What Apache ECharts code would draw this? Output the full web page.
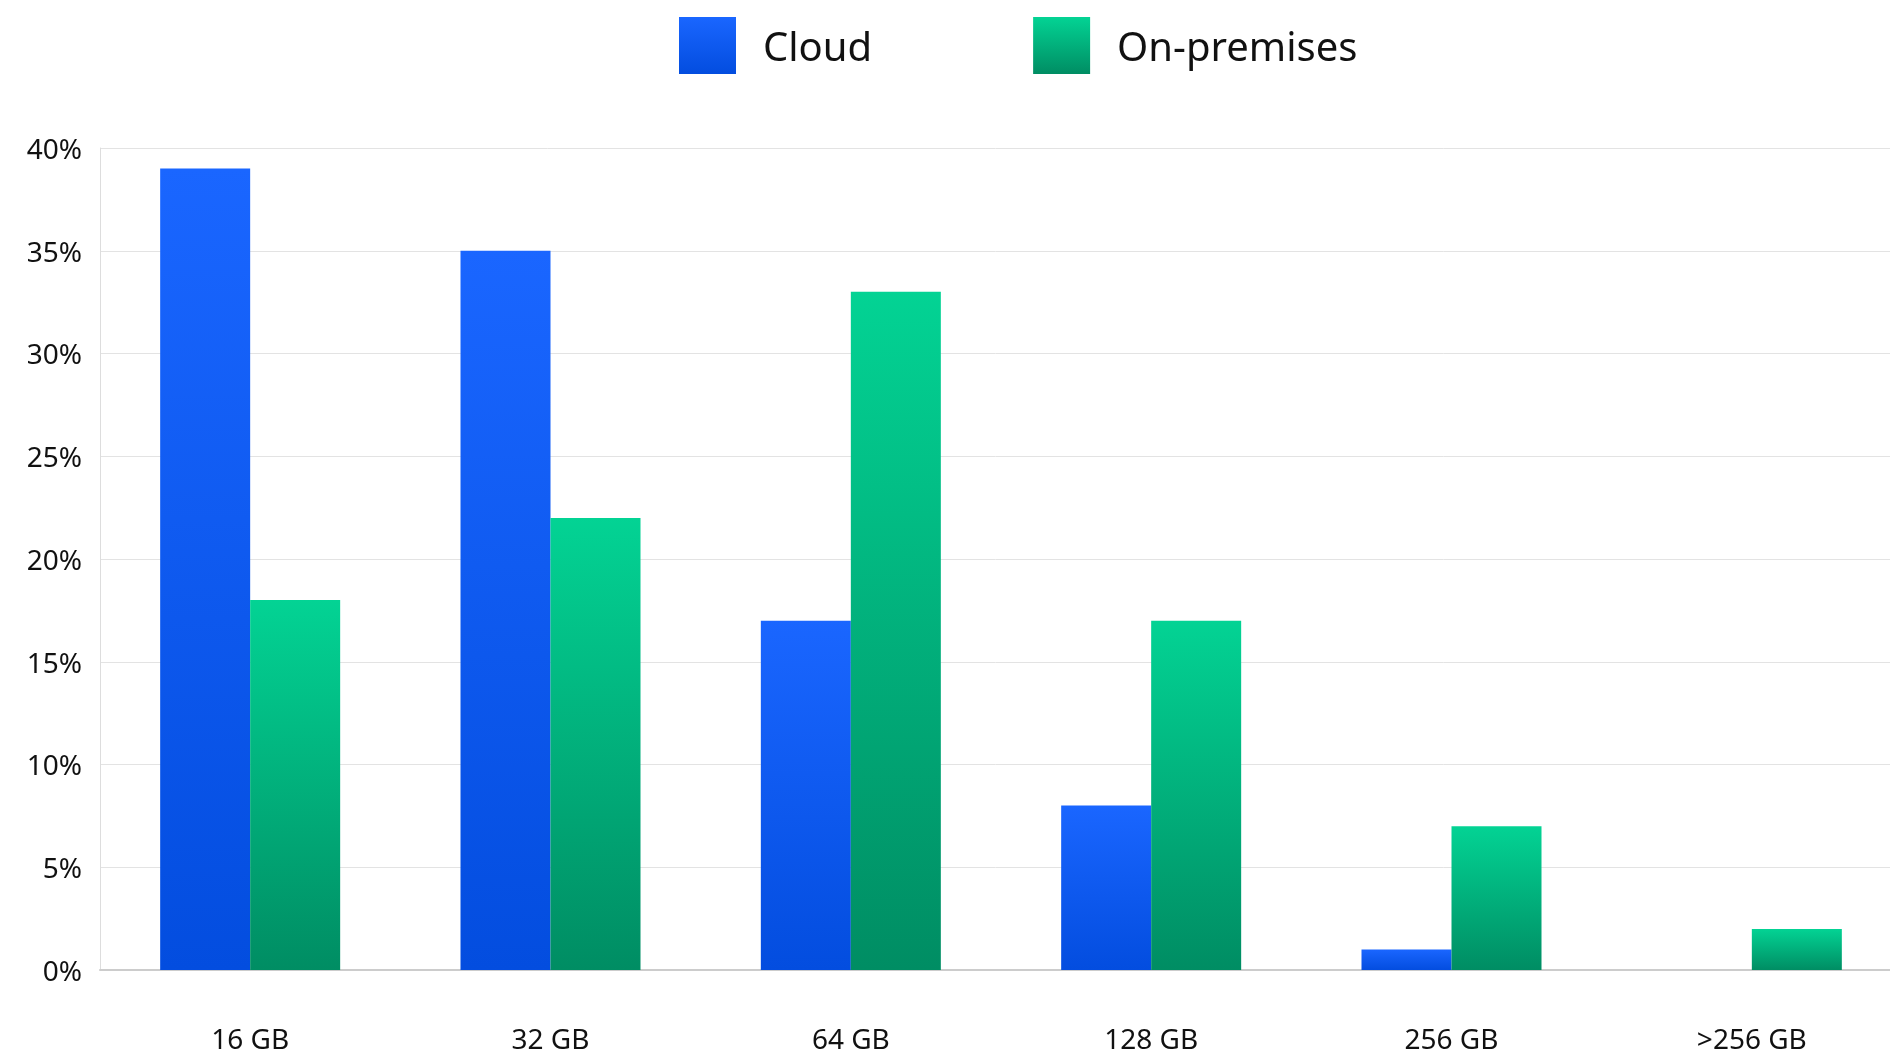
<!DOCTYPE html>
<html>
<head>
<meta charset="utf-8">
<script src="https://cdn.jsdelivr.net/npm/echarts@6/dist/echarts.min.js"></script>
<style>
  html, body { margin: 0; padding: 0; background: #fff; }
  #chart { width: 1890px; height: 1054px; }
</style>
</head>
<body>
<div id="chart"></div>
<script>
  var categories = ['16 GB', '32 GB', '64 GB', '128 GB', '256 GB', '>256 GB'];
  var cloud = [39, 35, 17, 8, 1, 0];
  var onPremises = [18, 22, 33, 17, 7, 2];

  var blue = new echarts.graphic.LinearGradient(0, 0, 0, 1, [
    { offset: 0, color: '#1a66ff' },
    { offset: 1, color: '#034ddf' }
  ]);
  var green = new echarts.graphic.LinearGradient(0, 0, 0, 1, [
    { offset: 0, color: '#03d394' },
    { offset: 1, color: '#008d63' }
  ]);

  var chart = echarts.init(document.getElementById('chart'));
  var font = '"Noto Sans", sans-serif';
  var option = {
    animation: false,
    textStyle: { fontFamily: font },
    legend: {
      left: 674,
      top: 12,
      itemWidth: 57,
      itemHeight: 57,
      itemGap: 161,
      icon: 'rect',
      formatter: '{t|{name}}',
      textStyle: {
        fontSize: 40,
        color: '#111',
        fontFamily: font,
        rich: { t: { fontSize: 40, color: '#111', fontFamily: font, padding: [8, 0, 0, 22] } }
      },
      data: ['Cloud', 'On-premises']
    },
    grid: { left: 100, width: 1802, top: 148, height: 822, containLabel: false, outerBoundsMode: 'none' },
    xAxis: {
      type: 'category',
      data: categories,
      axisLine: { lineStyle: { color: '#cccccc', width: 2 } },
      axisTick: { show: false },
      axisLabel: { fontSize: 28, color: '#111', margin: 57, fontFamily: font }
    },
    yAxis: {
      type: 'value',
      min: 0,
      max: 40,
      interval: 5,
      axisLine: { show: true, lineStyle: { color: '#dddddd', width: 1 } },
      axisTick: { show: false },
      splitLine: { lineStyle: { color: '#e3e3e3', width: 1 } },
      axisLabel: {
        fontSize: 28,
        color: '#111',
        margin: 18,
        fontFamily: font,
        formatter: '{v|{value}%}',
        rich: { v: { fontSize: 28, color: '#111', fontFamily: font, padding: [6, 0, 0, 0] } }
      }
    },
    series: [
      {
        name: 'Cloud',
        type: 'bar',
        data: cloud,
        barWidth: 90,
        barGap: '0%',
        itemStyle: { color: blue }
      },
      {
        name: 'On-premises',
        type: 'bar',
        data: onPremises,
        barWidth: 90,
        itemStyle: { color: green }
      }
    ]
  };
  chart.setOption(option);
  window.addEventListener('resize', function () {
    chart.resize();
  });
</script>
</body>
</html>
